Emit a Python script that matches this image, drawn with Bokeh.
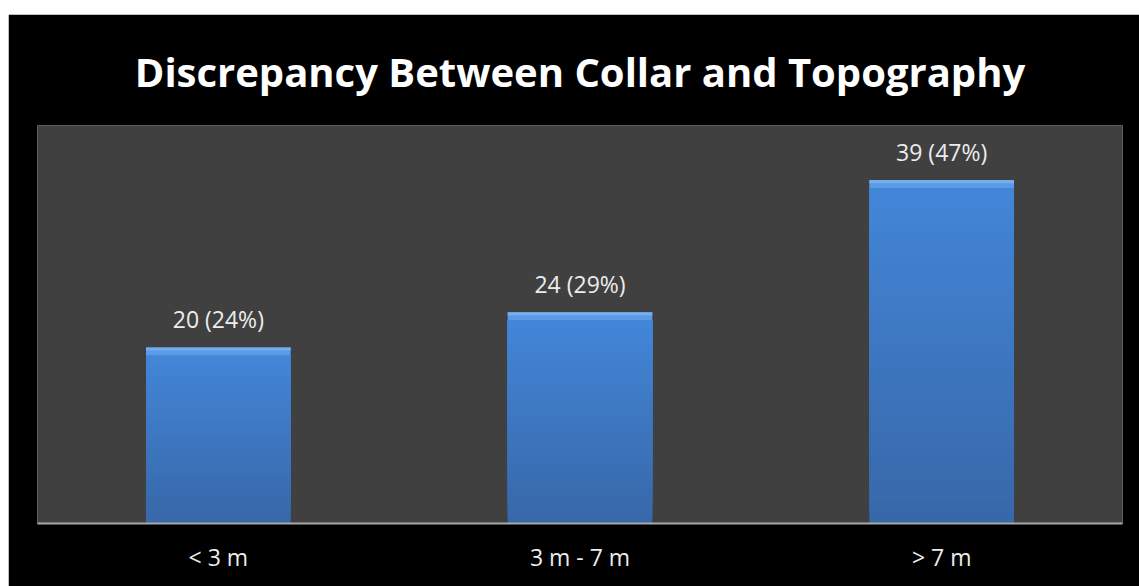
from bokeh.plotting import figure
from bokeh.models import ColumnDataSource, Range1d, Spacer
from bokeh.layouts import column, row
from bokeh.embed import file_html
from bokeh.resources import INLINE
from bokeh.core.properties import value

categories = ["< 3 m", "3 m - 7 m", "> 7 m"]
counts = [20, 24, 39]
percents = [24, 29, 47]
labels = [f"{c} ({p}%)" for c, p in zip(counts, percents)]

title_text = "Discrepancy Between Collar and Topography"

p = figure(x_range=categories, y_range=Range1d(0, 45.2), width=1131, height=572,
           output_backend="svg", toolbar_location=None,
           min_border_left=29, min_border_right=17, min_border_top=111, min_border_bottom=63)
p.background_fill_color = "#404040"
p.border_fill_color = "#000000"
p.outline_line_color = None
p.xgrid.grid_line_color = None
p.ygrid.grid_line_color = None
p.yaxis.visible = False

# gradient bars built from the data values (overlapping segments, no seams)
N = 30
top_c = (0x43, 0x86, 0xd8)
bot_c = (0x37, 0x67, 0xa8)
bevel = 0.9
for i in range(N):
    f0 = i / N
    t = (i + 0.5) / N
    col = tuple(int(round(bot_c[k] + (top_c[k] - bot_c[k]) * t)) for k in range(3))
    bottoms = [(c - bevel) * f0 for c in counts]
    tops = [c - bevel for c in counts]
    p.vbar(x=categories, bottom=bottoms, top=tops, width=0.4,
           fill_color="#%02x%02x%02x" % col, line_color=None)
# top bevel
p.vbar(x=categories, bottom=[c - bevel for c in counts], top=counts, width=0.4,
       fill_color="#5b9be6", line_color=None)
p.vbar(x=categories, bottom=[c - bevel * 0.4 for c in counts], top=counts, width=0.4,
       fill_color="#73aef0", line_color=None)

src = ColumnDataSource(dict(x=categories, y=counts, t=labels))
p.text(x="x", y="y", text="t", source=src, text_align="center", text_baseline="bottom",
       y_offset=-12, text_color="#ececec", text_font=value("Open Sans"),
       text_font_size="23px")

p.xaxis.axis_line_color = "#a8a8a8"
p.xaxis.axis_line_width = 2
p.xaxis.major_tick_line_color = None
p.xaxis.minor_tick_line_color = None
p.xaxis.major_label_text_color = "#ececec"
p.xaxis.major_label_text_font = "Open Sans"
p.xaxis.major_label_text_font_size = "23px"
p.xaxis.major_label_standoff = 11

p.title.text = title_text
p.title.align = "center"
p.title.text_color = "#ffffff"
p.title.text_font = "Open Sans"
p.title.text_font_style = "bold"
p.title.text_font_size = "40px"
p.title.standoff = 53

layout = column(Spacer(height=14), row(Spacer(width=8), p))
open("out.html", "w").write(file_html(layout, INLINE))
